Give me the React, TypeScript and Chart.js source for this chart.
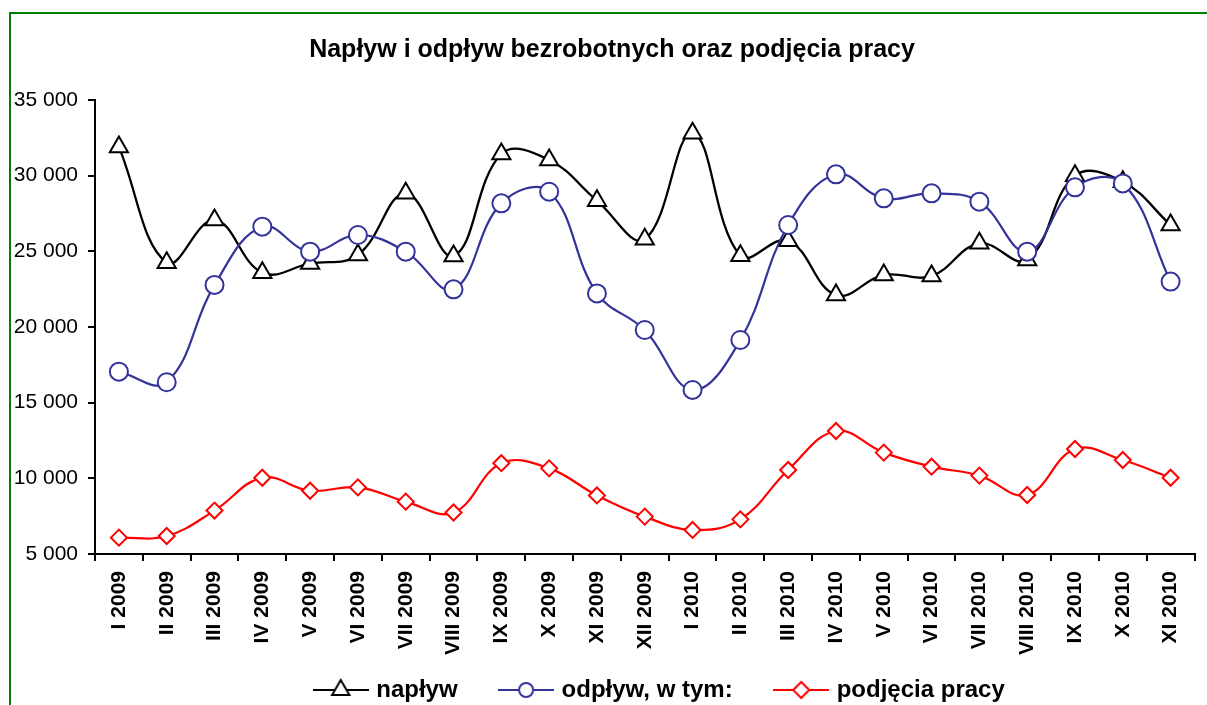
import React, { useEffect, useRef } from 'react';
import { Chart, registerables } from 'chart.js';

Chart.register(...registerables);

const categories = [
  'I 2009', 'II 2009', 'III 2009', 'IV 2009', 'V 2009', 'VI 2009', 'VII 2009', 'VIII 2009',
  'IX 2009', 'X 2009', 'XI 2009', 'XII 2009', 'I 2010', 'II 2010', 'III 2010', 'IV 2010',
  'V 2010', 'VI 2010', 'VII 2010', 'VIII 2010', 'IX 2010', 'X 2010', 'XI 2010',
];

const naplyw = [
  31900, 24250, 27070, 23590, 24200, 24760, 28830, 24690, 31430, 31040, 28350, 25800,
  32800, 24710, 25700, 22110, 23440, 23370, 25530, 24430, 30000, 29600, 26740,
];

const odplyw = [
  17050, 16350, 22780, 26630, 24980, 26080, 24980, 22490, 28170, 28940, 22220, 19800,
  15840, 19140, 26740, 30090, 28500, 28830, 28280, 24980, 29230, 29490, 23000,
];

const podjecia = [
  6080, 6190, 7870, 10040, 9180, 9400, 8460, 7740, 11000, 10660, 8870, 7470,
  6590, 7290, 10550, 13130, 11700, 10770, 10180, 8900, 11940, 11210, 10040,
];

const seriesNames = ['napływ', 'odpływ, w tym:', 'podjęcia pracy'];
const seriesColors = ['#000000', '#333399', '#ff0000'];
const yMin = 5000;
const yMax = 35000;
const yStep = 5000;
const titleText = 'Napływ i odpływ bezrobotnych oraz podjęcia pracy';

const FONT = "'Liberation Sans', Arial, sans-serif";
const CANVAS_W = 1207;
const CANVAS_H = 712;
const LEGEND_SHIFT = 63;
const TITLE_SHIFT = 14;

function fmt(v: number): string {
  return String(v).replace(/\B(?=(\d{3})+(?!\d))/g, ' ');
}

function makeSymbol(color: string, kind: string): HTMLCanvasElement {
  const c = document.createElement('canvas');
  c.width = 56;
  c.height = 26;
  const ctx = c.getContext('2d')!;
  const cx = 28;
  const cy = 13;
  ctx.strokeStyle = color;
  ctx.lineWidth = 2;
  ctx.beginPath();
  ctx.moveTo(0, cy);
  ctx.lineTo(56, cy);
  ctx.stroke();
  ctx.fillStyle = '#ffffff';
  ctx.beginPath();
  if (kind === 'triangle') {
    const r = 10;
    ctx.moveTo(cx, cy - r);
    ctx.lineTo(cx + r * 0.866, cy + r * 0.5);
    ctx.lineTo(cx - r * 0.866, cy + r * 0.5);
    ctx.closePath();
  } else if (kind === 'circle') {
    ctx.arc(cx, cy, 7, 0, Math.PI * 2);
  } else {
    const r = 8;
    ctx.moveTo(cx - r, cy);
    ctx.lineTo(cx, cy - r);
    ctx.lineTo(cx + r, cy);
    ctx.lineTo(cx, cy + r);
    ctx.closePath();
  }
  ctx.fill();
  ctx.stroke();
  return c;
}

const framePlugin = {
  id: 'frame',
  beforeDraw(chart: any) {
    const ctx = chart.ctx;
    ctx.save();
    ctx.fillStyle = '#ffffff';
    ctx.fillRect(0, 0, chart.width, chart.height);
    ctx.strokeStyle = '#008000';
    ctx.lineWidth = 2;
    ctx.beginPath();
    ctx.moveTo(10, chart.height);
    ctx.lineTo(10, 13);
    ctx.lineTo(chart.width, 13);
    ctx.stroke();
    ctx.restore();
  },
  afterLayout(chart: any) {
    const lg = chart.legend;
    if (lg) {
      lg.left += LEGEND_SHIFT;
      lg.right += LEGEND_SHIFT;
    }
    const tb = chart.titleBlock;
    if (tb) {
      tb.left += TITLE_SHIFT;
      tb.right += TITLE_SHIFT;
    }
    const xs = chart.scales && chart.scales.x;
    if (xs) {
      xs.bottom = chart.height;
    }
  },
};

export default function App() {
  const ref = useRef<HTMLCanvasElement | null>(null);

  useEffect(() => {
    if (!ref.current) return;
    const symbols = [
      makeSymbol(seriesColors[0], 'triangle'),
      makeSymbol(seriesColors[1], 'circle'),
      makeSymbol(seriesColors[2], 'diamond'),
    ];
    const chart = new Chart(ref.current, {
      type: 'line',
      data: {
        labels: categories,
        datasets: [
          {
            label: seriesNames[0],
            data: naplyw,
            borderColor: seriesColors[0],
            backgroundColor: '#ffffff',
            borderWidth: 2.3,
            pointStyle: 'triangle',
            pointRadius: 10.5,
            pointBorderWidth: 2,
            pointBackgroundColor: '#ffffff',
            pointBorderColor: seriesColors[0],
            tension: 0.4,
            order: 3,
          },
          {
            label: seriesNames[1],
            data: odplyw,
            borderColor: seriesColors[1],
            backgroundColor: '#ffffff',
            borderWidth: 2.2,
            pointStyle: 'circle',
            pointRadius: 9,
            pointBorderWidth: 2,
            pointBackgroundColor: '#ffffff',
            pointBorderColor: seriesColors[1],
            tension: 0.4,
            order: 2,
          },
          {
            label: seriesNames[2],
            data: podjecia,
            borderColor: seriesColors[2],
            backgroundColor: '#ffffff',
            borderWidth: 2.2,
            pointStyle: 'rectRot',
            pointRadius: 8,
            pointBorderWidth: 2,
            pointBackgroundColor: '#ffffff',
            pointBorderColor: seriesColors[2],
            tension: 0.4,
            order: 1,
          },
        ],
      },
      options: {
        responsive: false,
        animation: false,
        devicePixelRatio: 1,
        layout: { padding: { left: 0, right: 11, top: 0, bottom: 0 } },
        plugins: {
          title: {
            display: true,
            text: titleText,
            color: '#000000',
            font: { family: FONT, size: 25, weight: 'bold', lineHeight: 1.2 },
            padding: { top: 35, bottom: 35 },
          },
          legend: {
            display: true,
            position: 'bottom',
            labels: {
              usePointStyle: true,
              pointStyleWidth: 47,
              padding: 45,
              color: '#000000',
              font: { family: FONT, size: 24, weight: 'bold' },
              generateLabels: (ch: any) =>
                ch.data.datasets.map((ds: any, i: number) => ({
                  text: ds.label,
                  pointStyle: symbols[i],
                  fillStyle: 'transparent',
                  strokeStyle: 'transparent',
                  lineWidth: 0,
                  hidden: false,
                  datasetIndex: i,
                  fontColor: '#000000',
                })),
            },
          },
          tooltip: { enabled: false },
        },
        scales: {
          x: {
            type: 'category',
            offset: true,
            grid: {
              offset: true,
              drawOnChartArea: false,
              drawTicks: true,
              tickLength: 7,
              color: '#000000',
              lineWidth: 2,
            },
            border: { display: true, color: '#000000', width: 2 },
            ticks: {
              autoSkip: false,
              minRotation: 90,
              maxRotation: 90,
              padding: 10,
              color: '#000000',
              font: { family: FONT, size: 21, weight: 'bold' },
            },
            afterFit: (scale: any) => {
              scale.height = 79;
            },
          },
          y: {
            min: yMin,
            max: yMax,
            grid: {
              drawOnChartArea: false,
              drawTicks: true,
              tickLength: 7,
              color: '#000000',
              lineWidth: 2,
            },
            border: { display: true, color: '#000000', width: 2 },
            ticks: {
              stepSize: yStep,
              padding: 10,
              color: '#000000',
              font: { family: FONT, size: 21 },
              callback: (v: any) => fmt(Number(v)),
            },
            afterFit: (scale: any) => {
              scale.width = 95;
            },
          },
        },
      },
      plugins: [framePlugin],
    } as any);
    return () => chart.destroy();
  }, []);

  return (
    <div
      style={{
        position: 'fixed',
        left: 0,
        top: 0,
        width: CANVAS_W,
        height: 705,
        overflow: 'hidden',
        background: '#ffffff',
      }}
    >
      <canvas
        ref={ref}
        width={CANVAS_W}
        height={CANVAS_H}
        style={{ display: 'block', width: CANVAS_W, height: CANVAS_H }}
      />
    </div>
  );
}
